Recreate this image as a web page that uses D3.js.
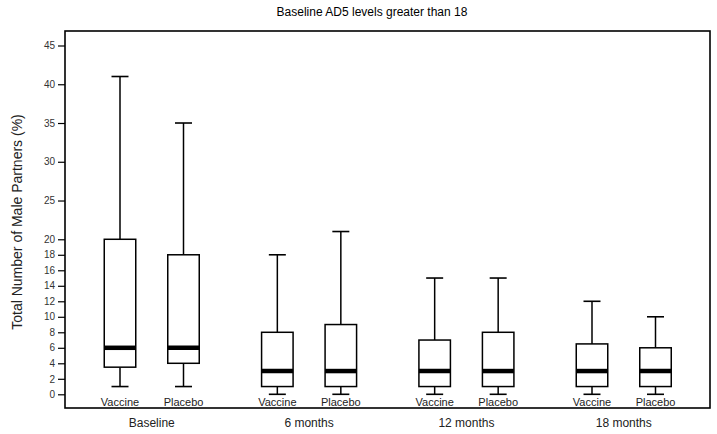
<!DOCTYPE html>
<html>
<head>
<meta charset="utf-8">
<script src="https://cdn.jsdelivr.net/npm/d3@7"></script>
<style>
  body { margin: 0; background: #fff; }
  text { font-family: Arial, "Liberation Sans", sans-serif; }
</style>
</head>
<body>
<div id="chart"></div>
<script>
// Data
const timepoints = ["Baseline", "6 months", "12 months", "18 months"];
const arms = ["Vaccine", "Placebo"];
// per box, in order timepoint x arm: [whiskerLow, q1, median, q3, whiskerHigh]
const lows    = [1, 1, 0, 0, 0, 0, 0, 0];
const q1s     = [3.5, 4, 1, 1, 1, 1, 1, 1];
const medians = [6, 6, 3, 3, 3, 3, 3, 3];
const q3s     = [20, 18, 8, 9, 7, 8, 6.5, 6];
const highs   = [41, 35, 18, 21, 15, 15, 12, 10];
const yTicks = [0, 2, 4, 6, 8, 10, 12, 14, 16, 18, 20, 25, 30, 35, 40, 45];

const boxes = lows.map((d, i) => ({
  time: timepoints[Math.floor(i / 2)],
  arm: arms[i % 2],
  low: lows[i], q1: q1s[i], med: medians[i], q3: q3s[i], high: highs[i]
}));

const width = 717, height = 434;
const frame = { left: 65, top: 31, right: 710, bottom: 408 };

const svg = d3.select("#chart")
    .append("svg")
    .attr("width", width)
    .attr("height", height);

// Scales
const x = d3.scalePoint()
    .domain(timepoints)
    .range([151.75, 623.75]);

const xArm = d3.scalePoint()
    .domain(arms)
    .range([-31.75, 31.75]);

const y = d3.scaleLinear()
    .domain([0, 45])
    .range([394.3, 45.5]);

const boxW = 31.5, capW = 17;

// frame
svg.append("rect")
    .attr("x", frame.left)
    .attr("y", frame.top)
    .attr("width", frame.right - frame.left)
    .attr("height", frame.bottom - frame.top)
    .attr("fill", "none")
    .attr("stroke", "#000")
    .attr("stroke-width", 1.6);

// y axis
const yAxis = svg.append("g")
    .attr("transform", `translate(${frame.left},0)`)
    .call(d3.axisLeft(y).tickValues(yTicks).tickSize(7).tickPadding(3));
yAxis.select(".domain").remove();
yAxis.selectAll(".tick line").attr("stroke", "#000").attr("stroke-width", 1.2);
yAxis.selectAll(".tick text")
    .attr("fill", "#333")
    .style("font-size", "10px");

// title
svg.append("text")
    .attr("x", 372)
    .attr("y", 16)
    .attr("text-anchor", "middle")
    .style("font-size", "12px")
    .text("Baseline AD5 levels greater than 18");

svg.append("text")
    .attr("transform", `translate(22,222) rotate(-90)`)
    .attr("text-anchor", "middle")
    .style("font-size", "14px")
    .attr("fill", "#222")
    .text("Total Number of Male Partners (%)");

// boxes
const g = svg.selectAll(".box")
    .data(boxes)
    .enter()
    .append("g")
    .attr("class", "box")
    .attr("transform", d => `translate(${x(d.time) + xArm(d.arm)},0)`);

g.append("line")
    .attr("x1", 0).attr("x2", 0)
    .attr("y1", d => y(d.high)).attr("y2", d => y(d.q3))
    .attr("stroke", "#000").attr("stroke-width", 1.5);

g.append("line")
    .attr("x1", 0).attr("x2", 0)
    .attr("y1", d => y(d.q1)).attr("y2", d => y(d.low))
    .attr("stroke", "#000").attr("stroke-width", 1.5);

g.append("line")
    .attr("x1", -capW / 2).attr("x2", capW / 2)
    .attr("y1", d => y(d.high)).attr("y2", d => y(d.high))
    .attr("stroke", "#000").attr("stroke-width", 1.6);

g.append("line")
    .attr("x1", -capW / 2).attr("x2", capW / 2)
    .attr("y1", d => y(d.low)).attr("y2", d => y(d.low))
    .attr("stroke", "#000").attr("stroke-width", 1.6);

g.append("rect")
    .attr("x", -boxW / 2)
    .attr("width", boxW)
    .attr("y", d => y(d.q3))
    .attr("height", d => y(d.q1) - y(d.q3))
    .attr("fill", "#fff")
    .attr("stroke", "#000")
    .attr("stroke-width", 1.5);

g.append("line")
    .attr("x1", -boxW / 2).attr("x2", boxW / 2)
    .attr("y1", d => y(d.med)).attr("y2", d => y(d.med))
    .attr("stroke", "#000").attr("stroke-width", 4.5);

// arm labels
g.append("text")
    .attr("y", 406)
    .attr("text-anchor", "middle")
    .style("font-size", "11px")
    .attr("fill", "#222")
    .text(d => d.arm);

// timepoint labels
svg.selectAll(".tlabel")
    .data(timepoints)
    .enter()
    .append("text")
    .attr("class", "tlabel")
    .attr("x", d => x(d))
    .attr("y", 427)
    .attr("text-anchor", "middle")
    .style("font-size", "12px")
    .attr("fill", "#222")
    .text(d => d);
</script>
</body>
</html>
